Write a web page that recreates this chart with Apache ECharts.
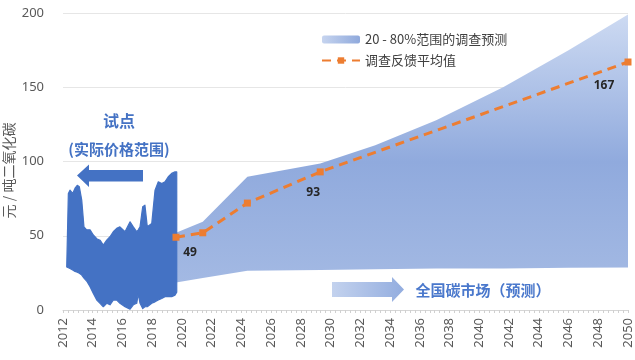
<!DOCTYPE html>
<html>
<head>
<meta charset="utf-8">
<script src="https://cdn.jsdelivr.net/npm/echarts@6/dist/echarts.min.js"></script>
<style>html,body{margin:0;padding:0;background:#fff;}#c{width:635px;height:360px;}</style>
</head>
<body>
<div id="c"></div>
<script>
// ---------- DATA ----------
const xTickLabels = [2012,2014,2016,2018,2020,2022,2024,2026,2028,2030,2032,2034,2036,2038,2040,2042,2044,2046,2048,2050];
const yTickLabels = [0,50,100,150,200];

// pilot markets: actual price range (low / high envelopes)
const pilotYears = [2012.25,2012.36,2012.47,2012.65,2012.81,2012.96,2013.10,2013.26,2013.41,2013.59,2013.82,2014.04,2014.27,2014.49,2014.71,2014.94,2015.16,2015.38,2015.61,2015.83,2016.17,2016.51,2016.73,2016.96,2017.06,2017.18,2017.36,2017.51,2017.67,2017.97,2018.19,2018.41,2018.64,2018.86,2019.08,2019.31,2019.53,2019.65];
const pilotHigh  = [29,78.5,80.7,78.5,82,84,83,74,56,54,54,50.5,48,47,43.7,47,49.3,52.7,55,56,52.7,59.4,56,52.7,54,56,69.5,70.6,56,58.3,80.7,86.3,85.2,86.3,89.7,92,93,93];
const pilotLow   = [29,28.5,28,27,26,25.5,24.7,23.5,21.5,19.5,15.7,11.2,6.7,4.5,2.2,4.5,3.5,6.7,6.7,4.5,2.2,0.5,3.5,4.5,11,4.5,1,2.2,2.2,4.5,5.5,6.7,7.8,9,9,9,10,12];

// national market survey: 20-80% range
const bandName  = '20 - 80%范围的调查预测';
const bandYears = [2019.6,2021.4,2024.4,2029.3,2033,2037.1,2041.6,2046,2050];
const bandHigh  = [52,59.4,89.7,98.7,111,127.7,150,175,199];
const bandLow   = [18.5,21.5,26.5,27,27.5,28,28,28.5,28.7];

// survey mean
const meanName   = '调查反馈平均值';
const meanYears  = [2019.6,2021.4,2024.4,2029.3,2050];
const meanValues = [49,52,72,93,167];
const meanLabeled = [true,false,false,true,true];

const yAxisName = '元 / 吨二氧化碳';
const pilotTitle = '试点';
const pilotSub = '(实际价格范围)';
const nationalText = '全国碳市场（预测）';

// ---------- STYLE ----------
const labelOffsets = [[14,-2],[0,0],[0,0],[-7,3],[-24,6]];
const CJK = '"Noto Sans CJK SC","Noto Sans",sans-serif';
const pilotColor = '#4472c4';

const chart = echarts.init(document.getElementById('c'), null, {renderer:'canvas'});

const bandGradient = new echarts.graphic.LinearGradient(0,0,0,1,[
  {offset:0,color:'#cddaf2'},
  {offset:0.55,color:'#90aadd'},
  {offset:1,color:'#a3b9e3'}
]);

function rangeSeries(name, xs, hi, lo, style, z){
  return {
    type:'custom', name:name, z:z, silent:true,
    data: xs.map((x,i)=>[x, hi[i], lo[i]]),
    encode:{x:0, y:[1,2]},
    renderItem:function(params, api){
      if (params.dataIndex !== 0) return null;
      const top = xs.map((x,i)=>api.coord([x, hi[i]]));
      const bot = xs.map((x,i)=>api.coord([x, lo[i]])).reverse();
      return {type:'polygon', shape:{points:top.concat(bot)}, style:style};
    }
  };
}

const meanData = meanYears.map((x,i)=>({
  value:[x, meanValues[i]],
  label:{show:meanLabeled[i], offset:labelOffsets[i]}
}));

const option = {
  backgroundColor:'#ffffff',
  animation:false,
  grid:{left:63, right:7, top:13, bottom:50, outerBoundsMode:'none', containLabel:false},
  legend:{
    orient:'vertical', left:316, top:28, itemGap:8,
    itemWidth:38, itemHeight:8,
    textStyle:{fontFamily:CJK, fontSize:13, color:'#404040'},
    data:[
      {name:bandName, icon:'roundRect', itemStyle:{color:new echarts.graphic.LinearGradient(0,0,1,0,[{offset:0,color:'#c6d4ef'},{offset:1,color:'#8fa9dc'}])}},
      {name:meanName}
    ]
  },
  xAxis:{
    type:'value', min:2012, max:2050, interval:2,
    axisLine:{show:true, lineStyle:{color:'#d6d6d6'}},
    axisTick:{show:true, length:3, lineStyle:{color:'#d0d0d0'}},
    minorTick:{show:true, splitNumber:6, length:3, lineStyle:{color:'#d0d0d0'}},
    splitLine:{show:false},
    axisLabel:{rotate:90, fontSize:13, color:'#595959', margin:8, fontFamily:'"Noto Sans",sans-serif',
      formatter:(v)=> xTickLabels.indexOf(v)>=0 ? String(v) : ''}
  },
  yAxis:{
    type:'value', min:0, max:200, interval:50,
    axisLine:{show:false}, axisTick:{show:false},
    splitLine:{lineStyle:{color:'#e6e6e6'}},
    axisLabel:{fontSize:13, color:'#595959', margin:19, fontFamily:'"Noto Sans",sans-serif',
      formatter:(v)=> yTickLabels.indexOf(v)>=0 ? String(v) : ''},
    name:yAxisName, nameLocation:'middle', nameRotate:90, nameGap:47, nameMoveOverlap:false,
    nameTextStyle:{fontFamily:CJK, fontSize:14, color:'#595959', padding:[0,18,0,0]}
  },
  series:[
    rangeSeries('pilotRange', pilotYears, pilotHigh, pilotLow, {fill:pilotColor, stroke:pilotColor, lineWidth:1.2, lineJoin:'round'}, 3),
    rangeSeries(bandName, bandYears, bandHigh, bandLow, {fill:bandGradient}, 2),
    {type:'line', name:meanName, data:meanData, symbol:'rect', symbolSize:7,
     itemStyle:{color:'#ed7d31'},
     lineStyle:{color:'#ed7d31', width:3, type:[9,6]},
     label:{position:'bottom', distance:8, fontSize:12, fontWeight:'bold', color:'#262626', fontFamily:'"Noto Sans",sans-serif'},
     z:5}
  ],
  graphic:[
    {type:'text', x:119, y:121, style:{text:pilotTitle, fill:pilotColor, font:'bold 16px '+CJK, align:'center', verticalAlign:'middle'}},
    {type:'text', x:119, y:149, style:{text:pilotSub, fill:pilotColor, font:'bold 15px '+CJK, align:'center', verticalAlign:'middle'}},
    {type:'polygon', shape:{points:[[77,175.5],[89,164.5],[89,170],[143,170],[143,181.5],[89,181.5],[89,187]]},
     style:{fill:pilotColor}, z:10},
    {type:'polygon', shape:{points:[[332,282],[392,282],[392,277],[404,289.5],[392,302],[392,297],[332,297]]},
     style:{fill:new echarts.graphic.LinearGradient(0,0,1,0,[{offset:0,color:'#c3d2ee'},{offset:1,color:'#93addf'}])}, z:10},
    {type:'text', x:483, y:290, style:{text:nationalText, fill:'#4a78cc', font:'bold 15px '+CJK, align:'center', verticalAlign:'middle'}}
  ]
};
chart.setOption(option);
</script>
</body>
</html>
